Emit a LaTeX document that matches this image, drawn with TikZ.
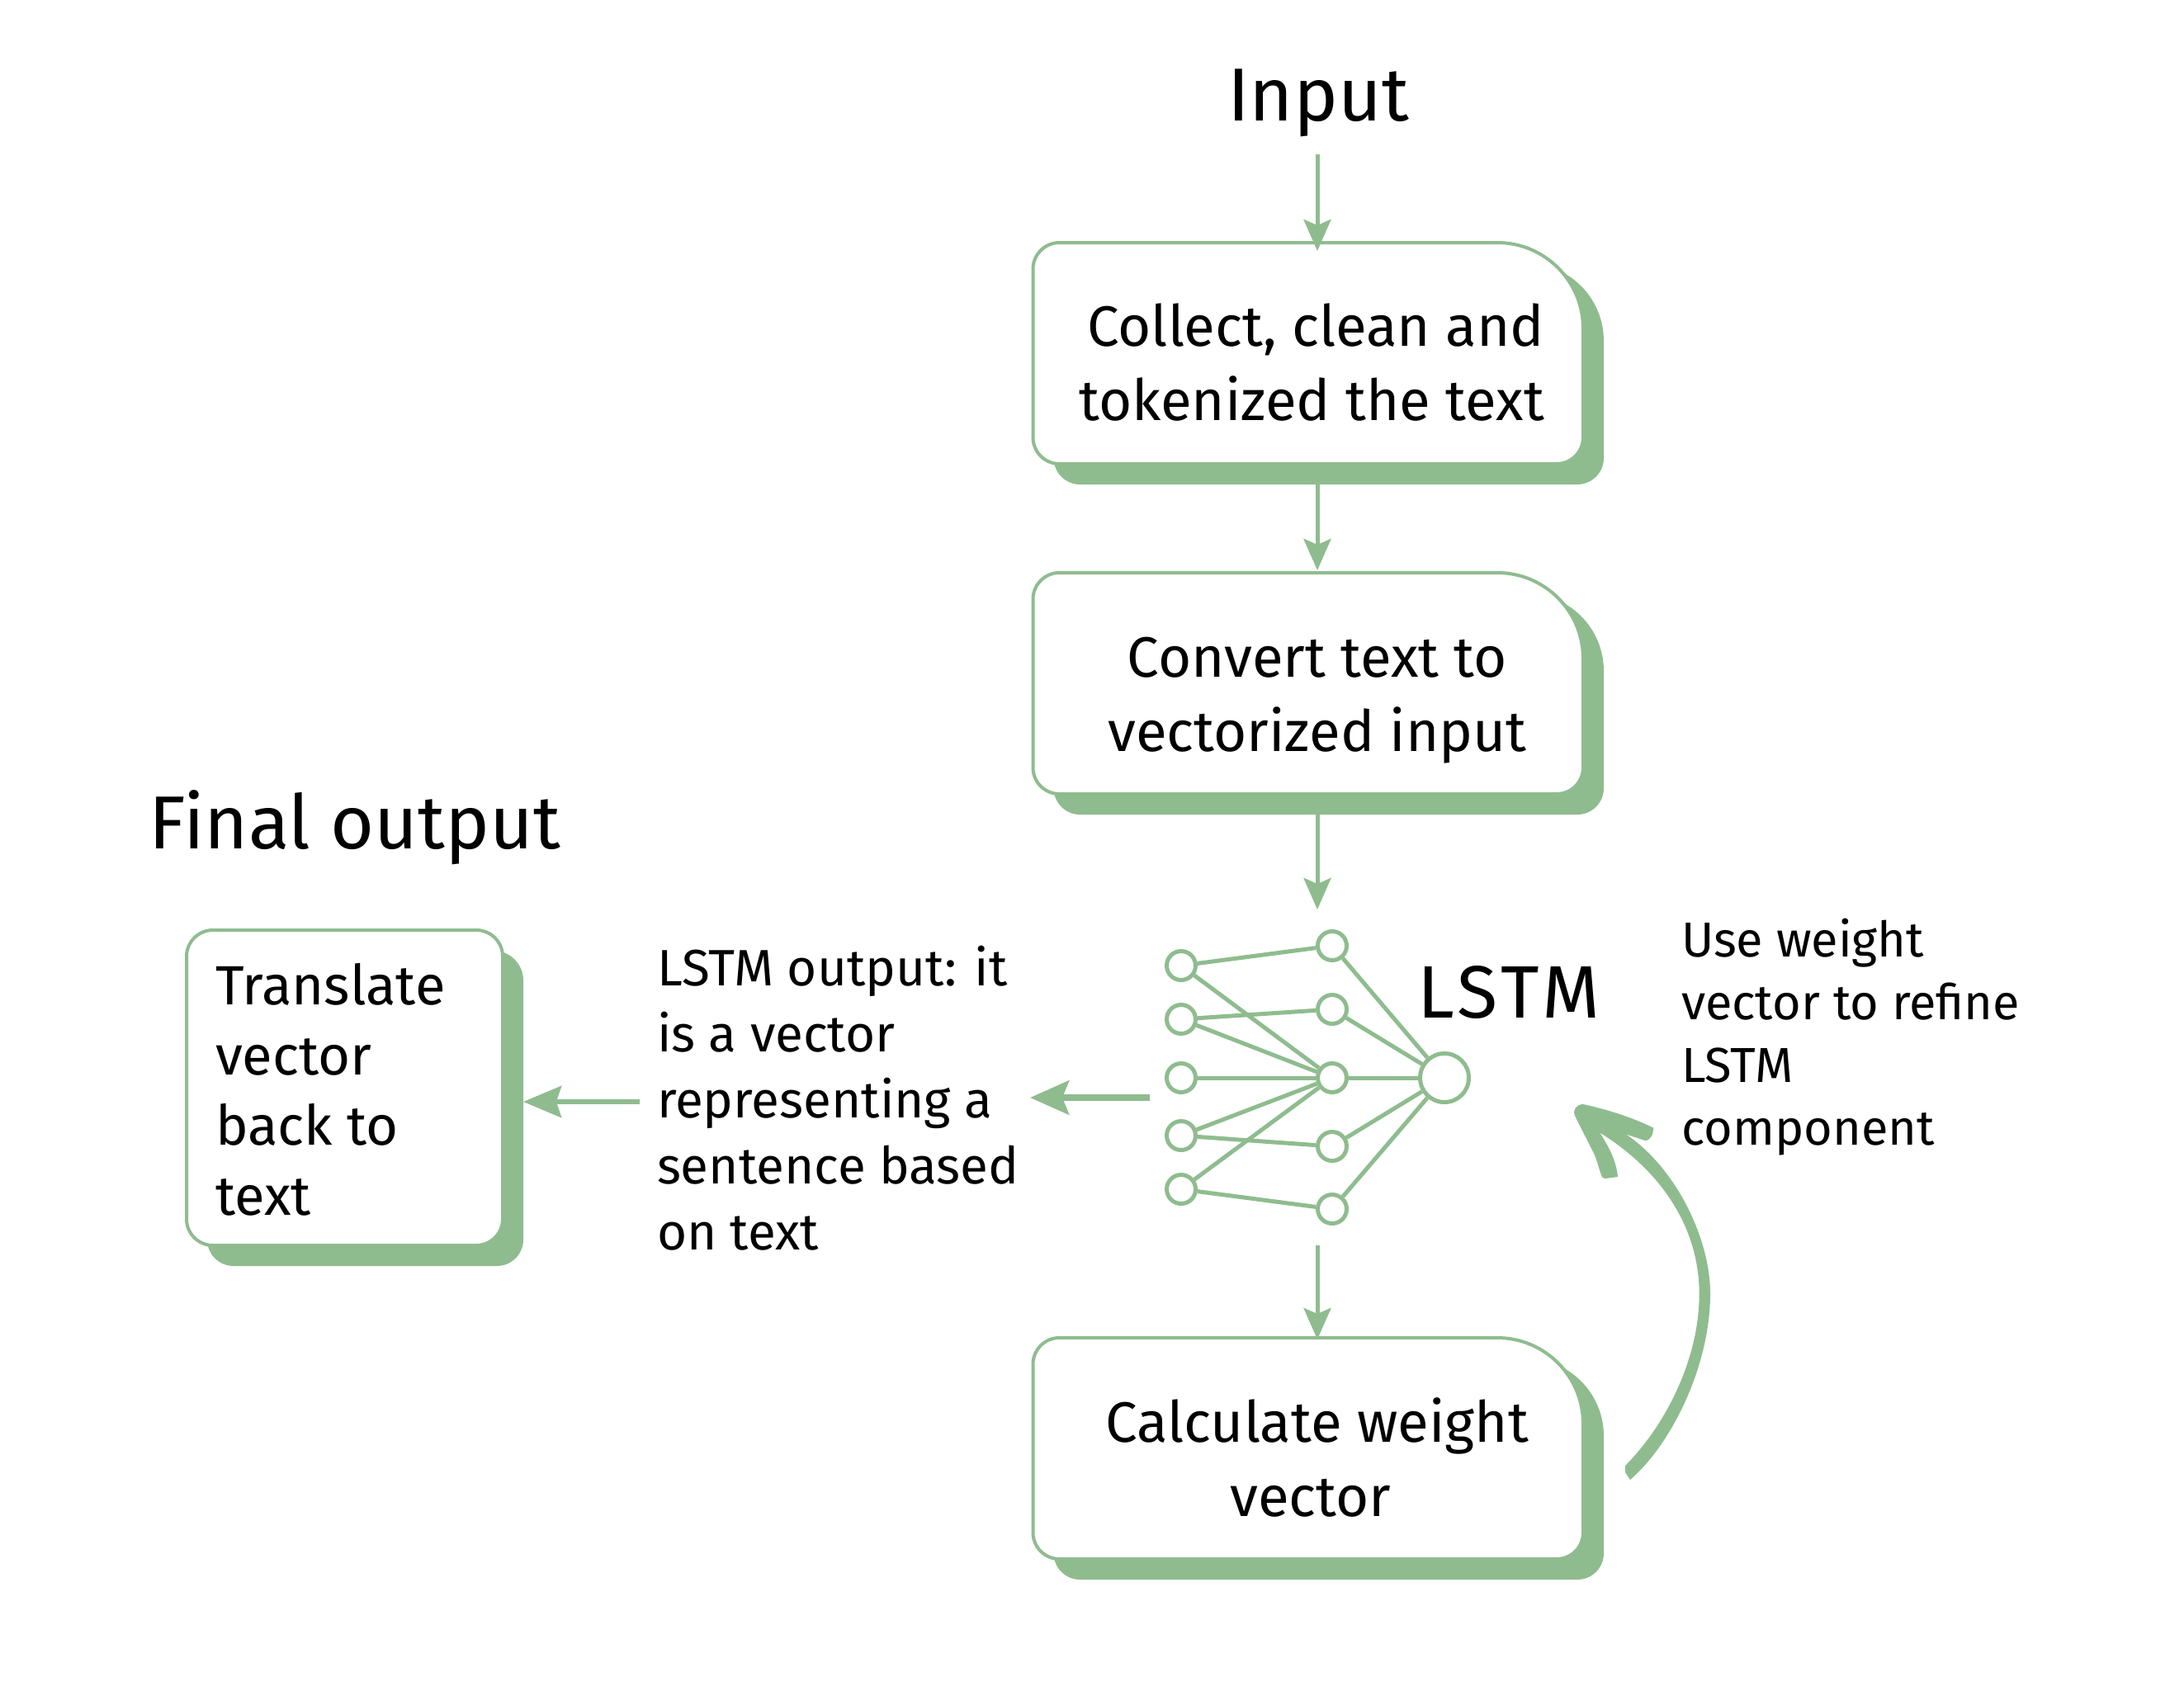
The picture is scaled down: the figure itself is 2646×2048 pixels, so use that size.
\documentclass[tikz,border=0pt]{standalone}
\usepackage{fontspec}
\usetikzlibrary{arrows.meta}
\setmainfont{Fira Sans}
\definecolor{sage}{HTML}{8FBC8F}
\newcommand{\fs}[2]{\fontsize{#1}{#2}\selectfont}
% rounded box outline: x0,y0,x1,y1,small radius,top-right radius
\newcommand{\boxoutline}[6]{
  (#1,#2+#5) .. controls (#1,#2+.4477*#5) and (#1+.4477*#5,#2) .. (#1+#5,#2)
  -- (#3-#6,#2) .. controls (#3-.4477*#6,#2) and (#3,#2+.4477*#6) .. (#3,#2+#6)
  -- (#3,#4-#5) .. controls (#3,#4-.4477*#5) and (#3-.4477*#5,#4) .. (#3-#5,#4)
  -- (#1+#5,#4) .. controls (#1+.4477*#5,#4) and (#1,#4-.4477*#5) .. (#1,#4-#5) -- cycle}
% name,x0,y0,x1,y1,radius,top-right radius,shadow top-right radius
\newcommand{\flowbox}[8]{
  \fill[sage] \boxoutline{#2+25}{#3+25}{#4+25}{#5+25}{#6}{#8};
  \filldraw[fill=white,draw=sage,line width=4pt] \boxoutline{#2}{#3}{#4}{#5}{#6}{#7};
  \node[boxanchor,minimum width=#4pt-#2pt,minimum height=#5pt-#3pt] (#1) at ({(#2+#4)/2},{(#3+#5)/2}) {};
}
\tikzset{
  boxanchor/.style={inner sep=0pt,outer sep=0pt,draw=none},
  boxtext/.style={inner sep=0pt,outer sep=0pt,align=center,font=\fs{69}{90},anchor=base},
  title/.style={inner sep=0pt,outer sep=0pt,font=\fs{91}{91},anchor=base},
  lefttext/.style={inner sep=0pt,outer sep=0pt,align=left,anchor=base west},
  arr/.style={sage,line width=5pt,-{Stealth[length=38pt,width=33pt,inset=7pt]}},
  bigarr/.style={sage,line width=8pt,-{Stealth[length=47pt,width=41pt,inset=8pt]}},
  midarr/.style={sage,line width=6pt,-{Stealth[length=46pt,width=38pt,inset=6pt]}},
  unit/.style={circle,draw=sage,fill=white,line width=5pt,inner sep=0pt,minimum size=35pt},
  bigunit/.style={circle,draw=sage,fill=white,line width=5pt,inner sep=0pt,minimum size=59pt},
  link/.style={sage,line width=5pt}
}
\begin{document}
\begin{tikzpicture}[x=1pt,y=-1pt]
\useasboundingbox (0,0) rectangle (2646,2048);
\fill[white] (0,0) rectangle (2646,2048);

\node[title] (input) at (1597,146) {Input};
\node[title] (final) at (430,1028) {Final output};

\flowbox{box1}{1251.5}{294}{1918}{562}{32}{104}{94}
\flowbox{box2}{1251.5}{694}{1918}{962}{32}{104}{94}
\flowbox{box3}{1251.5}{1621}{1918}{1889}{32}{104}{94}
\flowbox{box4}{226}{1127}{609}{1509}{32}{32}{36}

\node[boxtext] (t1) at (1594,509) {Collect, clean and\\tokenized the text\hspace*{10pt}};
\node[boxtext] (t2) at (1596,910) {Convert text to\\vectorized input};
\node[boxtext] (t3) at (1596,1837) {Calculate weight\\vector\hspace*{16pt}};
\node[lefttext,font=\fs{67}{85}] (t4) at (261,1472) {Translate\\vector\\back to\\text};

\node[lefttext,font=\fs{62}{80}] (lo) at (796,1514) {LSTM output: it\\is a vector\\representing a\\sentence based\\on text};
\node[lefttext,font=\fs{59.5}{76}] (uw) at (2037,1387) {Use weight\\vector to refine\\LSTM\\component};
\node[lefttext,font=\addfontfeature{LetterSpace=6}\fs{90}{90}] (lstm) at (1717,1233) {LSTM};

% network
\node[unit] (l1) at (1431,1170) {};
\node[unit] (l2) at (1431,1235) {};
\node[unit] (l3) at (1431,1306) {};
\node[unit] (l4) at (1431,1376) {};
\node[unit] (l5) at (1431,1441) {};
\node[unit] (m1) at (1614,1146) {};
\node[unit] (m2) at (1614,1223) {};
\node[unit] (m3) at (1614,1306) {};
\node[unit] (m4) at (1614,1389) {};
\node[unit] (m5) at (1614,1465) {};
\node[bigunit] (o) at (1750,1306) {};
\foreach \a/\b in {l1/m1,l1/m3,l2/m2,l2/m3,l3/m3,l4/m3,l4/m4,l5/m3,l5/m5,m1/o,m2/o,m3/o,m4/o,m5/o}
  \draw[link] (\a) -- (\b);

% free ends of the connectors
\coordinate (inputfoot) at (1596,187);
\coordinate (netin) at (1596,1102);
\coordinate (netfoot) at (1596,1509);
\coordinate (netleft) at (1393,1330);
\coordinate (netleftend) at (1248,1330);
\coordinate (lotail) at (775,1335);
\coordinate (box4in) at (634,1335);

\draw[arr] (inputfoot) -- ([xshift=11.25pt,yshift=-10pt]box1.north);
\draw[arr,shorten <=25pt] ([xshift=11.25pt]box1.south) -- ([xshift=11.25pt,yshift=3pt]box2.north);
\draw[arr,shorten <=25pt] ([xshift=11.25pt]box2.south) -- (netin);
\draw[arr] (netfoot) -- ([xshift=11.25pt,yshift=-2pt]box3.north);
\draw[bigarr] (netleft) -- (netleftend);
\draw[midarr] (lotail) -- (box4in);

% hand drawn curved arrow
\fill[sage] (1970,1374.4) .. controls (2030,1415) and (2072,1500) .. (2072,1567.6)
  .. controls (2072,1655) and (2025,1750) .. (1975,1793)
  -- (1969,1784) -- (1969,1776)
  .. controls (2015,1730) and (2058.7,1650) .. (2058.7,1567.6)
  .. controls (2058.7,1490) and (2015,1420) .. (1938.3,1372.5)
  .. controls (1948,1388) and (1958,1405) .. (1960,1426)
  -- (1945,1428) .. controls (1942,1428) and (1941,1427) .. (1940,1424)
  .. controls (1936,1412) and (1934,1404) .. (1931.7,1399)
  -- (1908,1352) .. controls (1905,1345) and (1910,1338) .. (1918,1338)
  .. controls (1950,1345) and (1980,1355) .. (2003.3,1366.7)
  .. controls (2003,1374) and (2000,1382) .. (1993,1382)
  -- cycle;
\end{tikzpicture}
\end{document}
